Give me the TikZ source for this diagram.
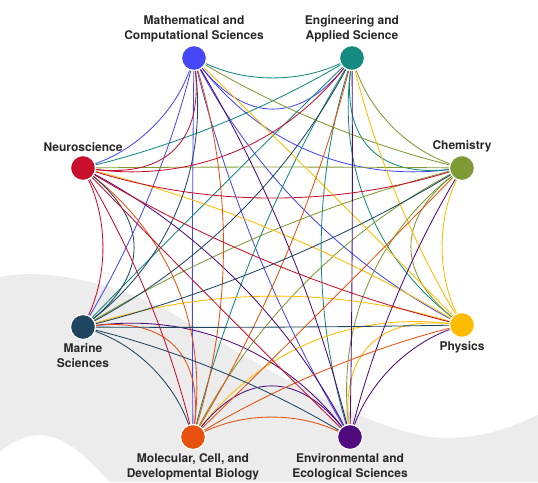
\documentclass[tikz,border=0pt]{standalone}
\usepackage{fontspec}
\setmainfont{TeX Gyre Heros}
\usetikzlibrary{calc}
\pgfdeclarelayer{background}
\pgfdeclarelayer{edges}
\pgfsetlayers{background,edges,main}
\definecolor{math}{RGB}{70,72,246}
\definecolor{eng}{RGB}{20,138,128}
\definecolor{chem}{RGB}{126,154,52}
\definecolor{phys}{RGB}{255,187,0}
\definecolor{env}{RGB}{79,10,126}
\definecolor{mol}{RGB}{232,80,14}
\definecolor{marine}{RGB}{31,69,96}
\definecolor{neuro}{RGB}{200,16,46}
\definecolor{bggray}{RGB}{236,236,236}
\definecolor{labeltext}{RGB}{40,40,40}
\tikzset{
  field/.style={circle, minimum size=25pt, inner sep=0pt, draw=white, line width=1.2pt},
  lbl/.style={font=\bfseries\fontsize{12}{15}\selectfont, text=labeltext, align=center, inner sep=0pt},
  link/.style={line width=0.85pt}
}

\begin{document}
\begin{tikzpicture}[x=1pt, y=-1pt, label distance=3pt]
  \useasboundingbox (0,0) rectangle (538,482);

  % grey band behind the lower half
  \begin{pgfonlayer}{background}
    \fill[bggray] (0,277) .. controls (40,268) and (110,280) .. (170,312)
      .. controls (260,365) and (380,440) .. (450,438)
      .. controls (490,437) and (515,425) .. (538,415)
      -- (538,482) -- (110,482)
      .. controls (85,455) and (60,430) .. (30,436)
      .. controls (15,440) and (5,447) .. (0,452) -- cycle;
  \end{pgfonlayer}

  \coordinate (ctr) at (272.5,247.5);

  % the eight fields
  \foreach \n/\px/\py/\side/\txt in {
      math/194/58/above/{Mathematical and\\Computational Sciences},
      eng/352/58/above/{Engineering and\\Applied Science},
      chem/462/168/above/{Chemistry},
      phys/462/325/below/{Physics},
      env/350/437/below/{Environmental and\\Ecological Sciences},
      mol/193/437/below/{Molecular, Cell, and\\Developmental Biology},
      marine/83/327/below/{Marine\\Sciences},
      neuro/83/168/above/{Neuroscience}}
    \node[field, fill=\n, label={[lbl]\side:{\txt}}] (\n) at (\px,\py) {};

  % one curve per field and partner, in the field's colour
  \begin{pgfonlayer}{edges}
    \foreach \a in {math,eng,chem,phys,env,mol,marine,neuro}
      \foreach \b in {math,eng,chem,phys,env,mol,marine,neuro}{
        \ifx\a\b\else
          \coordinate (m) at ($(\a)!0.5!(\b)$);
          \coordinate (q) at ($(m)!30pt!-90:(\b)$);
          \coordinate (q) at ($(q)+0.354*(ctr)-0.354*(m)$);
          \draw[link, draw=\a] (\a) .. controls ($(\a)!0.667!(q)$) and ($(\b)!0.667!(q)$) .. (\b);
        \fi
      }
  \end{pgfonlayer}
\end{tikzpicture}
\end{document}
